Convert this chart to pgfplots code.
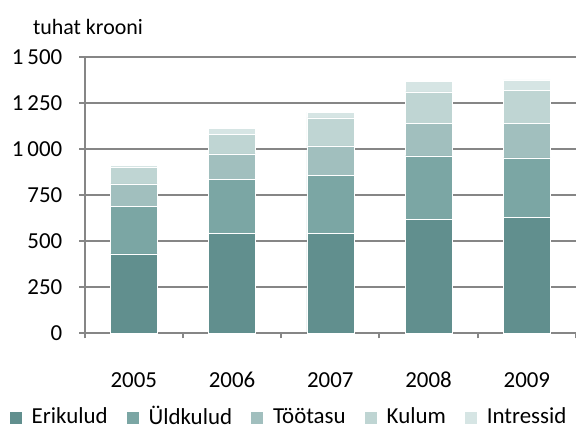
\documentclass[border=0pt]{standalone}
\usepackage{pgfplots}
\usepackage{pgfplotstable}
\pgfplotsset{compat=1.18}
\usepackage{fontspec}
\setmainfont{Carlito}
\definecolor{cEri}{HTML}{618F8E}
\definecolor{cUld}{HTML}{7BA6A4}
\definecolor{cToo}{HTML}{A1BFBE}
\definecolor{cKul}{HTML}{BFD5D3}
\definecolor{cInt}{HTML}{D6E5E4}
\definecolor{gridgray}{HTML}{868686}
\pgfplotstableread{
x Eri Uld Too Kul Int
0 430 260 120 88 15
1 540 293 140 106 33
2 540 315 162 152 32
3 616 347 175 172 56
4 629 323 186 182 55
}\data
\begin{document}
\begin{tikzpicture}
\useasboundingbox (-42.35bp,-48bp) rectangle (245.65bp,166.5bp);
\begin{axis}[
  at={(0,0)}, anchor=south west,
  scale only axis,
  width=245.65bp, height=138bp,
  ybar stacked,
  bar width=0.478,
  xmin=-0.5, xmax=4.5,
  ymin=0, ymax=1500,
  axis lines=left,
  axis line style={-, draw=gridgray, line width=1bp},
  ytick={0,250,...,1500},
  ymajorgrids,
  grid style={draw=gridgray, line width=1bp},
  xtick={0,1,2,3,4},
  xticklabels={2005,2006,2007,2008,2009},
  minor xtick={-0.5,0.5,1.5,2.5,3.5,4.5},
  major x tick style={draw=none},
  tick align=outside,
  major tick length=2.7bp,
  minor tick length=2.7bp,
  tick style={draw=gridgray, line width=1bp},
  /pgf/number format/assume math mode=true,
  /pgf/number format/1000 sep={\,},
  every tick label/.append style={font=\fontsize{11.5}{13}\selectfont, text=black},
  xticklabel style={anchor=base, yshift=-24.3bp},
  yticklabel style={xshift=-5bp},
  legend style={at={(rel axis cs:0.418,-0.305)}, anchor=center, draw=none,
    font=\fontsize{11.5}{13}\selectfont, legend columns=5,
    inner sep=0pt, outer sep=0pt,
    nodes={inner ysep=0.5bp},
    /tikz/every odd column/.append style={column sep=3bp},
    /tikz/every even column/.append style={column sep=7.5bp}},
  legend image code/.code={\fill[#1, draw=none] (0bp,-3.5bp) rectangle (6bp,2.5bp);},
  clip=false,
]
\addplot[fill=cEri, draw=white, line width=0.3bp] table[x=x,y=Eri]{\data};
\addplot[fill=cUld, draw=white, line width=0.3bp] table[x=x,y=Uld]{\data};
\addplot[fill=cToo, draw=white, line width=0.3bp] table[x=x,y=Too]{\data};
\addplot[fill=cKul, draw=white, line width=0.3bp] table[x=x,y=Kul]{\data};
\addplot[fill=cInt, draw=white, line width=0.3bp] table[x=x,y=Int]{\data};
\legend{Erikulud,Üldkulud,Töötasu,Kulum,Intressid}
\end{axis}
\node[font=\fontsize{11}{13}\selectfont] at (1.65bp,153bp) {tuhat krooni};
\end{tikzpicture}
\end{document}
